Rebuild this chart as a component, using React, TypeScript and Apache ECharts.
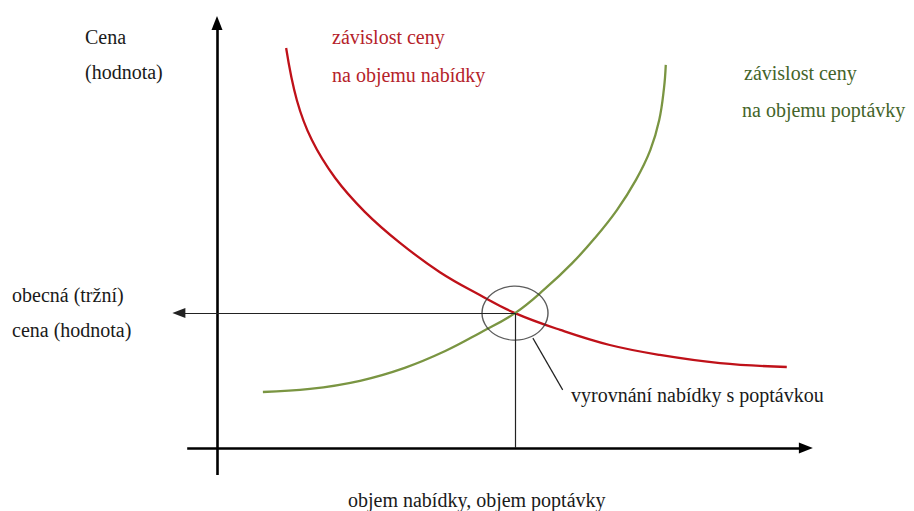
import React, { useEffect, useRef } from "react";
import * as echarts from "echarts";

// Red curve: "závislost ceny na objemu nabídky" (x = objem, y = cena)
const redX = [11.6, 13.4, 15.9, 19.8, 24.8, 30.7, 37.4, 44.1, 50.0, 57.6, 65.9, 74.3, 84.4, 95.6];
const redY = [92.8, 80.7, 71.5, 62.7, 54.8, 47.6, 40.8, 35.5, 31.3, 27.4, 23.9, 21.6, 19.7, 18.8];

// Green curve: "závislost ceny na objemu poptávky"
const greenX = [7.7, 15.6, 24.0, 31.5, 38.3, 44.1, 50.0, 55.0, 59.6, 63.4, 67.1, 70.3, 72.7, 74.2, 75.0, 75.3];
const greenY = [13.0, 13.7, 15.6, 18.6, 22.5, 26.7, 31.3, 36.9, 42.9, 48.7, 55.2, 62.2, 69.1, 76.1, 83.5, 88.9];

// Equilibrium point and guide geometry (data units)
const equilibrium = [50, 31.3];
const xRange = [-7.55, 100];
const yRange = [-6.26, 100];
const xAxisExtent = [-5.0, 98.8];
const yAxisExtent = [-6.26, 98.6];
const priceArrowEndX = -6.4;
const leaderLine = [[53.0, 25.5], [58.0, 13.5]];

// Texts
const yTitle = ["Cena", "(hodnota)"];
const redLabel = ["závislost ceny", "na objemu nabídky"];
const greenLabel = ["závislost ceny", "na objemu poptávky"];
const priceLabel = ["obecná (tržní)", "cena (hodnota)"];
const eqLabel = "vyrovnání nabídky s poptávkou";
const xTitle = "objem nabídky, objem poptávky";

const SERIF = "'Liberation Serif', Tinos, 'Times New Roman', 'DejaVu Serif', serif";

function zip(a: number[], b: number[]) {
  return a.map((v, i) => [v, b[i]]);
}

export default function App() {
  const ref = useRef<HTMLDivElement>(null);
  useEffect(() => {
    const chart = echarts.init(ref.current!, null, { renderer: "svg" });
    const txt = (text: string, x: number, y: number, fill: string) => ({
      type: "text",
      x,
      y,
      silent: true,
      style: {
        text,
        fontFamily: SERIF,
        fontSize: 20,
        fill,
        verticalAlign: "middle",
        align: "left",
      },
    });
    const axisStyle = { color: "#000", width: 2.6, type: "solid" };
    const thinStyle = { color: "#222", width: 1.2, type: "solid" };
    chart.setOption({
      animation: false,
      backgroundColor: "#ffffff",
      textStyle: { fontFamily: SERIF },
      grid: { left: 172, right: 101, top: 17, bottom: 36, containLabel: false },
      xAxis: { type: "value", min: xRange[0], max: xRange[1], show: false },
      yAxis: { type: "value", min: yRange[0], max: yRange[1], show: false },
      series: [
        {
          type: "line",
          name: "nabídka",
          data: zip(redX, redY),
          smooth: 0.4,
          symbol: "none",
          lineStyle: { color: "#bf1119", width: 2.3 },
          z: 3,
        },
        {
          type: "line",
          name: "poptávka",
          data: zip(greenX, greenY),
          smooth: 0.4,
          symbol: "none",
          lineStyle: { color: "#7a9542", width: 2.3 },
          z: 3,
        },
        {
          type: "scatter",
          name: "rovnováha",
          data: [equilibrium],
          symbol: "circle",
          symbolSize: [66, 54],
          silent: true,
          itemStyle: { color: "rgba(0,0,0,0)", borderColor: "#333", borderWidth: 1.3 },
          z: 4,
          markLine: {
            silent: true,
            animation: false,
            label: { show: false },
            symbol: ["none", "none"],
            data: [
              [
                { coord: [xAxisExtent[0], 0], symbol: "none", lineStyle: axisStyle },
                { coord: [xAxisExtent[1], 0], symbol: "triangle", symbolSize: [11, 14], lineStyle: axisStyle },
              ],
              [
                { coord: [0, yAxisExtent[0]], symbol: "none", lineStyle: axisStyle },
                { coord: [0, yAxisExtent[1]], symbol: "triangle", symbolSize: [11, 14], lineStyle: axisStyle },
              ],
              [
                { coord: [equilibrium[0], equilibrium[1]], symbol: "none", lineStyle: thinStyle },
                { coord: [priceArrowEndX, equilibrium[1]], symbol: "triangle", symbolSize: [10, 13], lineStyle: thinStyle },
              ],
              [
                { coord: [equilibrium[0], equilibrium[1]], symbol: "none", lineStyle: thinStyle },
                { coord: [equilibrium[0], 0], symbol: "none", lineStyle: thinStyle },
              ],
              [
                { coord: leaderLine[0], symbol: "none", lineStyle: thinStyle },
                { coord: leaderLine[1], symbol: "none", lineStyle: thinStyle },
              ],
            ],
          },
        },
      ],
      graphic: [
        txt(yTitle[0], 85, 37, "#1a1a1a"),
        txt(yTitle[1], 85, 72, "#1a1a1a"),
        txt(redLabel[0], 332, 37, "#b5222a"),
        txt(redLabel[1], 332, 75, "#b5222a"),
        txt(greenLabel[0], 744, 73, "#44642a"),
        txt(greenLabel[1], 742, 110, "#44642a"),
        txt(priceLabel[0], 12, 295, "#1a1a1a"),
        txt(priceLabel[1], 12, 330, "#1a1a1a"),
        txt(eqLabel, 571, 395, "#1a1a1a"),
        txt(xTitle, 348, 500, "#1a1a1a"),
      ],
    });
    return () => chart.dispose();
  }, []);
  return (
    <div
      ref={ref}
      style={{ position: "fixed", left: 0, top: 0, width: 914, height: 511, background: "#fff" }}
    />
  );
}
